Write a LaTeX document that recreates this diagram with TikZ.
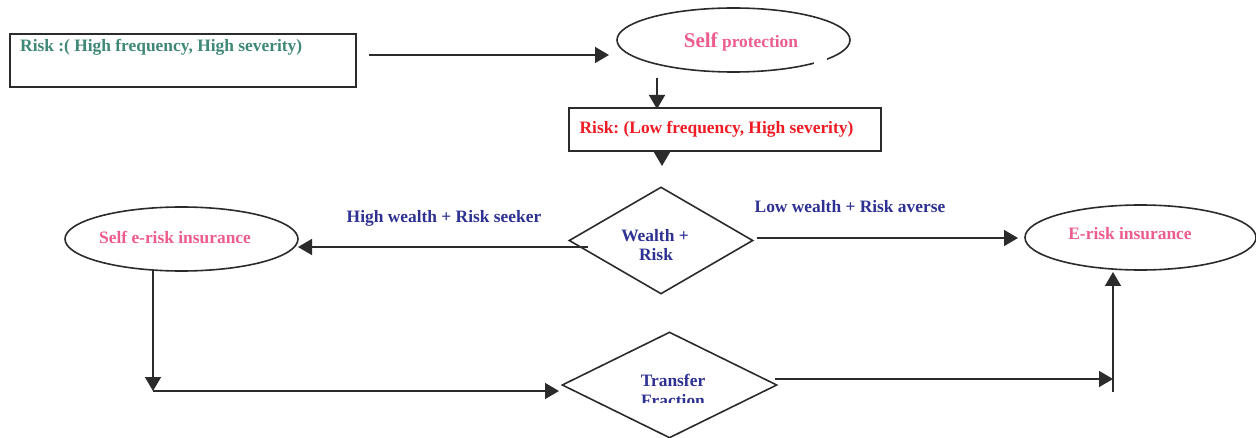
\documentclass[tikz,border=0pt]{standalone}
\usepackage{fontspec}
\setmainfont{Liberation Serif}
\usetikzlibrary{arrows.meta,shapes.geometric}
\definecolor{cgreen}{HTML}{3F8878}
\definecolor{cpink}{HTML}{EC5C8C}
\definecolor{cred}{HTML}{EE1C25}
\definecolor{cnavy}{HTML}{2E3192}
\definecolor{cline}{HTML}{2B2B2B}
\frenchspacing
\begin{document}
\begin{tikzpicture}[x=1pt,y=-1pt,
  every node/.style={font=\fontsize{17.4}{18}\selectfont\bfseries},
  shp/.style={draw=cline,line width=1.6pt,inner sep=0pt},
  ell/.style={shp,ellipse},
  dia/.style={shp,diamond},
  box/.style={shp,rectangle},
  txt/.style={inner sep=0pt,anchor=base},
  conn/.style={draw=cline,line width=1.6pt,-{Triangle[length=14pt,width=16pt]}}]
\useasboundingbox (0,0) rectangle (1256,438);

% shapes
\node[box,minimum width=346pt,minimum height=53pt] (b1) at (183,60.5) {};
\node[txt,anchor=base west,text=cgreen] (t1) at (20,52) {Risk :( High frequency, High severity)};

\node[ell,minimum width=233pt,minimum height=64pt] (sp) at (733.5,40) {};
\fill[white] (814,57) rectangle (827,70);
\node[txt,text=cpink] (tsp) at (741,48) {{\fontsize{21}{21}\selectfont Self} protection};

\node[box,minimum width=312pt,minimum height=43pt] (b2) at (725,129.5) {};
\node[txt,text=cred] (t2) at (716.5,134) {Risk: (Low frequency, High severity)};

\node[dia,minimum width=184pt,minimum height=107pt] (d1) at (661,240.5) {};
\node[txt,text=cnavy] (td1) at (655,242) {Wealth +};
\node[txt,text=cnavy] (td1b) at (656,261) {Risk};

\node[ell,minimum width=233pt,minimum height=64pt] (se) at (181.5,239) {};
\node[txt,text=cpink] (tse) at (175,244) {Self e-risk insurance};

\node[ell,minimum width=231pt,minimum height=65pt] (er) at (1140.5,237.5) {};
\node[txt,text=cpink] (ter) at (1130,240) {E-risk insurance};

\node[dia,minimum width=215pt,minimum height=106pt] (d2) at (669.5,385) {};
\begin{scope}
\clip (600,360) rectangle (740,402.5);
\node[txt,text=cnavy] (td2) at (673,386) {Transfer};
\node[txt,text=cnavy] (td2b) at (673,406) {Fraction};
\end{scope}

% labels
\node[txt,text=cnavy] (l1) at (444,223) {High wealth + Risk seeker};
\node[txt,text=cnavy] (l2) at (850,213) {Low wealth + Risk averse};

% coordinates
\coordinate (a1s) at (369,55);
\coordinate (a1e) at (609,55);
\coordinate (a2s) at (657,78);
\coordinate (a2e) at (657,109);
\coordinate (a3s) at (662,151);
\coordinate (a3e) at (662,166);
\coordinate (a4s) at (588,247);
\coordinate (a4e) at (298,247);
\coordinate (a5s) at (757,238);
\coordinate (a5e) at (1018,238);
\coordinate (a6s) at (153,271);
\coordinate (a6e) at (153,391);
\coordinate (a7s) at (153,391);
\coordinate (a7e) at (559,391);
\coordinate (a8s) at (775,379);
\coordinate (a8e) at (1113,379);
\coordinate (a9s) at (1113,392);
\coordinate (a9e) at (1113,272);

\draw[conn] (a1s) -- (a1e);
\draw[conn] (a2s) -- (a2e);
\draw[conn] (a3s) -- (a3e);
\draw[conn] (a4s) -- (a4e);
\draw[conn] (a5s) -- (a5e);
\draw[conn] (a6s) -- (a6e);
\draw[conn] (a7s) -- (a7e);
\draw[conn] (a8s) -- (a8e);
\draw[conn] (a9s) -- (a9e);
\end{tikzpicture}
\end{document}
